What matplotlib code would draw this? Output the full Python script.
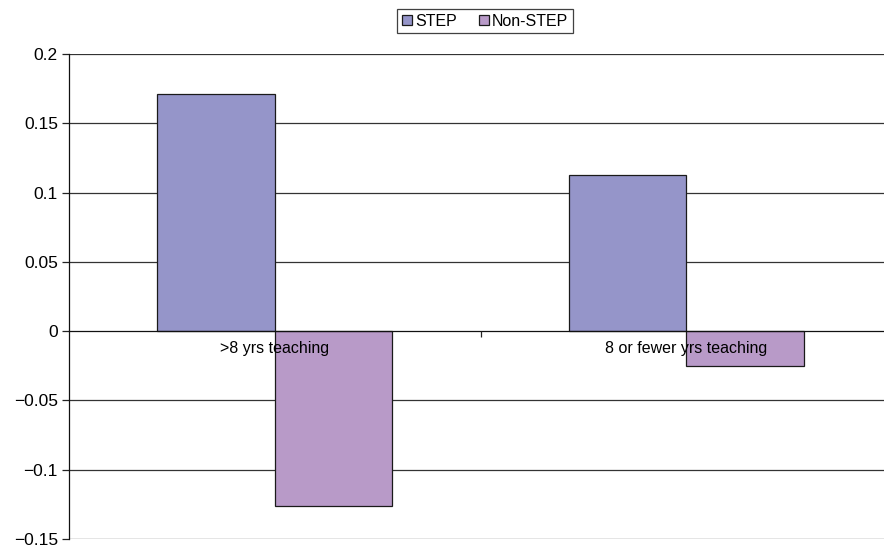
import matplotlib.pyplot as plt
import numpy as np

plt.rcParams['font.family'] = ['Liberation Sans', 'DejaVu Sans']

categories = [">8 yrs teaching", "8 or fewer yrs teaching"]
series_names = ["STEP", "Non-STEP"]
step_values = [0.171, 0.113]
nonstep_values = [-0.126, -0.025]
y_ticks = [-0.15, -0.1, -0.05, 0, 0.05, 0.1, 0.15, 0.2]
y_tick_labels = ["\u22120.15", "\u22120.1", "\u22120.05", "0", "0.05", "0.1", "0.15", "0.2"]

colors = ["#9595C9", "#B89AC8"]
bar_w = 0.285

fig = plt.figure(figsize=(8.84, 5.47), dpi=100)
# axes extend slightly past the right edge of the canvas
ax = fig.add_axes([69 / 884, 1 - 539 / 547, 823 / 884, 485 / 547])

x = np.arange(len(categories)) + 0.5
b1 = ax.bar(x - bar_w / 2, step_values, bar_w, color=colors[0],
            edgecolor="#1a1a1a", linewidth=0.9, zorder=3, label=series_names[0])
b2 = ax.bar(x + bar_w / 2, nonstep_values, bar_w, color=colors[1],
            edgecolor="#1a1a1a", linewidth=0.9, zorder=3, label=series_names[1])

ax.set_xlim(0, 2)
ax.set_ylim(-0.15, 0.2)
ax.set_yticks(y_ticks)
ax.set_yticklabels(y_tick_labels, fontsize=12.5)
ax.tick_params(axis="y", direction="out", length=5, width=0.9, color="#222222", pad=3)

for yv in y_ticks:
    if yv != 0:
        ax.axhline(yv, color="#333333", linewidth=0.9, zorder=1)

for s in ["top", "right"]:
    ax.spines[s].set_visible(False)
ax.spines["left"].set_color("#111111")
ax.spines["left"].set_linewidth(0.9)
ax.spines["bottom"].set_position(("data", 0))
ax.spines["bottom"].set_color("#111111")
ax.spines["bottom"].set_linewidth(0.9)
ax.spines["bottom"].set_zorder(4)

# category labels sit just under the zero line, drawn over the bars
ax.set_xticks(x)
ax.set_xticklabels(categories, fontsize=11.5)
ax.tick_params(axis="x", which="major", length=0, pad=7)
ax.set_xticks([1], minor=True)
ax.tick_params(axis="x", which="minor", direction="out", length=4, width=0.9, color="#222222")
ax.xaxis.set_zorder(5)

leg = fig.legend(handles=[b1, b2], labels=series_names, loc="center",
                 bbox_to_anchor=(485 / 884, 1 - 21 / 547), ncol=2, frameon=True,
                 fancybox=False, edgecolor="#111111", fontsize=11.5,
                 handlelength=0.65, handleheight=0.65, handletextpad=0.15,
                 columnspacing=1.4, borderpad=0.3)
leg.get_frame().set_linewidth(0.9)

fig.savefig("out.png", dpi=100)
